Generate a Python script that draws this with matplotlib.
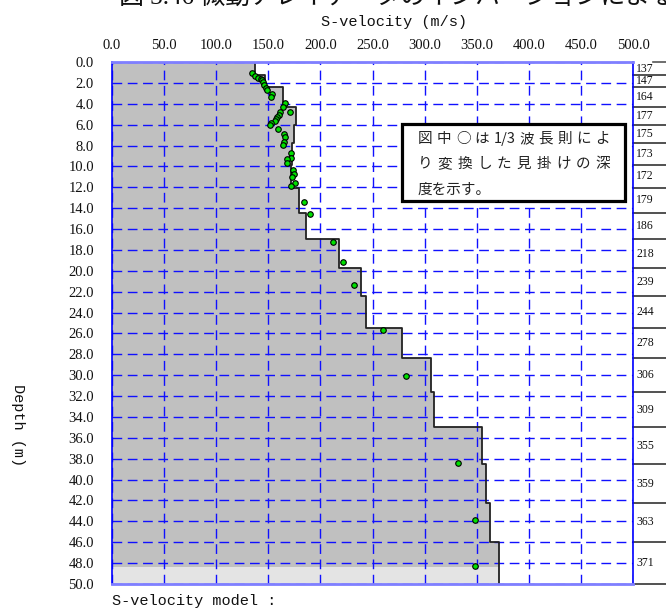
import numpy as np
import matplotlib
matplotlib.use('Agg')
import matplotlib.pyplot as plt
from matplotlib.patches import Rectangle
from matplotlib.transforms import blended_transform_factory

W, H, DPI = 666, 610, 100

# ---------------- data ----------------
layer_bottom = [1.25, 2.4, 4.3, 6.0, 7.75, 9.85, 12.05, 14.45, 17.0, 19.7,
                22.4, 25.45, 28.4, 31.65, 35.0, 38.55, 42.2, 45.95, 50.0]
layer_vs = [137, 147, 164, 177, 175, 173, 172, 179, 186, 218,
            239, 244, 278, 306, 309, 355, 359, 363, 371]
halfspace_top = 48.4

pt_vs = [134, 137, 140, 143, 144, 145, 146, 148, 149, 154,
         153, 166, 164, 171, 161, 160, 158, 157, 156, 153,
         152, 159, 165, 166, 165, 164, 172, 172, 168, 168,
         174, 175, 173, 176, 172, 184, 190, 212, 222, 232,
         260, 282, 332, 348, 348]
pt_depth = [1.08, 1.31, 1.50, 1.63, 1.72, 1.95, 2.2, 2.52, 2.68, 3.1,
            3.4, 3.9, 4.3, 4.8, 4.8, 5.07, 5.23, 5.45, 5.64, 5.87,
            6.03, 6.41, 6.92, 7.15, 7.62, 7.94, 8.74, 9.15, 9.28, 9.7,
            10.3, 10.7, 10.97, 11.6, 11.87, 13.4, 14.6, 17.2, 19.2, 21.4,
            25.7, 30.1, 38.4, 43.9, 48.3]

x_ticks = [0, 50, 100, 150, 200, 250, 300, 350, 400, 450, 500]
x_tick_labels = ['0.0', '50.0', '100.0', '150.0', '200.0', '250.0',
                 '300.0', '350.0', '400.0', '450.0', '500.0']
y_ticks = list(range(0, 52, 2))
y_tick_labels = ['%.1f' % v for v in y_ticks]

title_text = '図 3.46 微動アレイデータのインバージョンによる推定結果'
note_lines = [['図', '中', '○', 'は', '1/3', '波', '長', '則', 'に', 'よ'],
              ['り', '変', '換', 'し', 'た', '見', '掛', 'け', 'の', '深'],
              ['度を示す。']]

# ---------------- figure ----------------
plt.rcParams['font.family'] = ['Liberation Serif', 'Noto Sans CJK JP', 'DejaVu Sans']
fig = plt.figure(figsize=(W / DPI, H / DPI), dpi=DPI)
ax = fig.add_axes([112 / W, 1 - 584 / H, 521 / W, 522 / H])
ax.set_xlim(0, 500)
ax.set_ylim(50, 0)

# step profile
tops = [0.0] + layer_bottom[:-1]
prof_y = np.ravel(np.column_stack([tops, layer_bottom]))
prof_x = np.repeat(layer_vs, 2)
ax.fill_betweenx(prof_y, 0, prof_x, color='#c0c0c0', lw=0, zorder=1)
ax.fill_betweenx([halfspace_top, 50], 0, layer_vs[-1], color='#e4e4e4', lw=0, zorder=1.1)
ax.plot(prof_x, prof_y, color='#222222', lw=1.3, zorder=2)

# points
ax.scatter(pt_vs, pt_depth, s=16, c='#00e000', edgecolors='black', linewidths=0.8, zorder=3)

# grid
ax.set_xticks(x_ticks)
ax.set_xticklabels(x_tick_labels)
ax.set_yticks(y_ticks)
ax.set_yticklabels(y_tick_labels)
ax.xaxis.set_ticks_position('top')
ax.tick_params(axis='x', length=0, pad=7, labelsize=10.5, colors='#111111')
ax.tick_params(axis='y', length=0, pad=13, labelsize=10.5, colors='#111111')
ax.grid(True, color='#1010ff', lw=1, linestyle=(0, (7, 4)))
for s in ['left', 'right']:
    ax.spines[s].set_color('#0000ff')
    ax.spines[s].set_linewidth(1.2)
for s in ['top', 'bottom']:
    ax.spines[s].set_color('#7f7fff')
    ax.spines[s].set_linewidth(2)

# right-hand layer column
tr = blended_transform_factory(ax.transAxes, ax.transData)
x_end = (W - 112) / 521
ax.plot([(653 - 112) / 521, x_end], [0, 0], color='#555555', lw=1.2,
        transform=tr, clip_on=False)
for top, bot, v in zip(tops, layer_bottom, layer_vs):
    ax.plot([1.0, x_end], [bot, bot], color='#333333', lw=1.2,
            transform=tr, clip_on=False)
    ax.text(1.006, (top + bot) / 2, str(v), transform=tr, ha='left',
            va='center', fontsize=8.5, color='#111111', clip_on=False)

# axis titles and texts
fig.text(394 / W, 1 - 22 / H, 'S-velocity (m/s)', family='Liberation Mono',
         fontsize=11, ha='center', va='center', color='#111111')
fig.text(18 / W, 1 - 425 / H, 'Depth (m)', family='Liberation Mono',
         fontsize=11, ha='center', va='center', rotation=270, color='#111111')
fig.text(112 / W, 1 - 601 / H, 'S-velocity model :', family='Liberation Mono',
         fontsize=11, ha='left', va='center', color='#111111')
fig.text(119 / W, 1 - 4 / H, title_text,
         family=['Liberation Serif', 'Noto Sans CJK JP'], fontsize=18,
         ha='left', va='baseline', color='#111111')

# annotation box
fig.add_artist(Rectangle((402 / W, 1 - 201 / H), (625 - 402) / W, (201 - 124) / H,
                         transform=fig.transFigure, facecolor='white',
                         edgecolor='black', lw=2.3, zorder=5))
renderer = fig.canvas.get_renderer()
line_y = [139, 164, 190]
x0, x1 = 418, 610
for toks, yy in zip(note_lines, line_y):
    objs = [fig.text(0, 1 - yy / H, t, family=['Noto Sans CJK JP', 'Liberation Serif'],
                     fontsize=10.5, ha='left', va='center', color='#222222', zorder=6)
            for t in toks]
    widths = [o.get_window_extent(renderer).width for o in objs]
    if len(toks) > 1:
        gap = (x1 - x0 - sum(widths)) / (len(toks) - 1)
    else:
        gap = 0
    x = x0
    for o, w in zip(objs, widths):
        o.set_x(x / W)
        x += w + gap

fig.savefig('out.png', dpi=DPI)
